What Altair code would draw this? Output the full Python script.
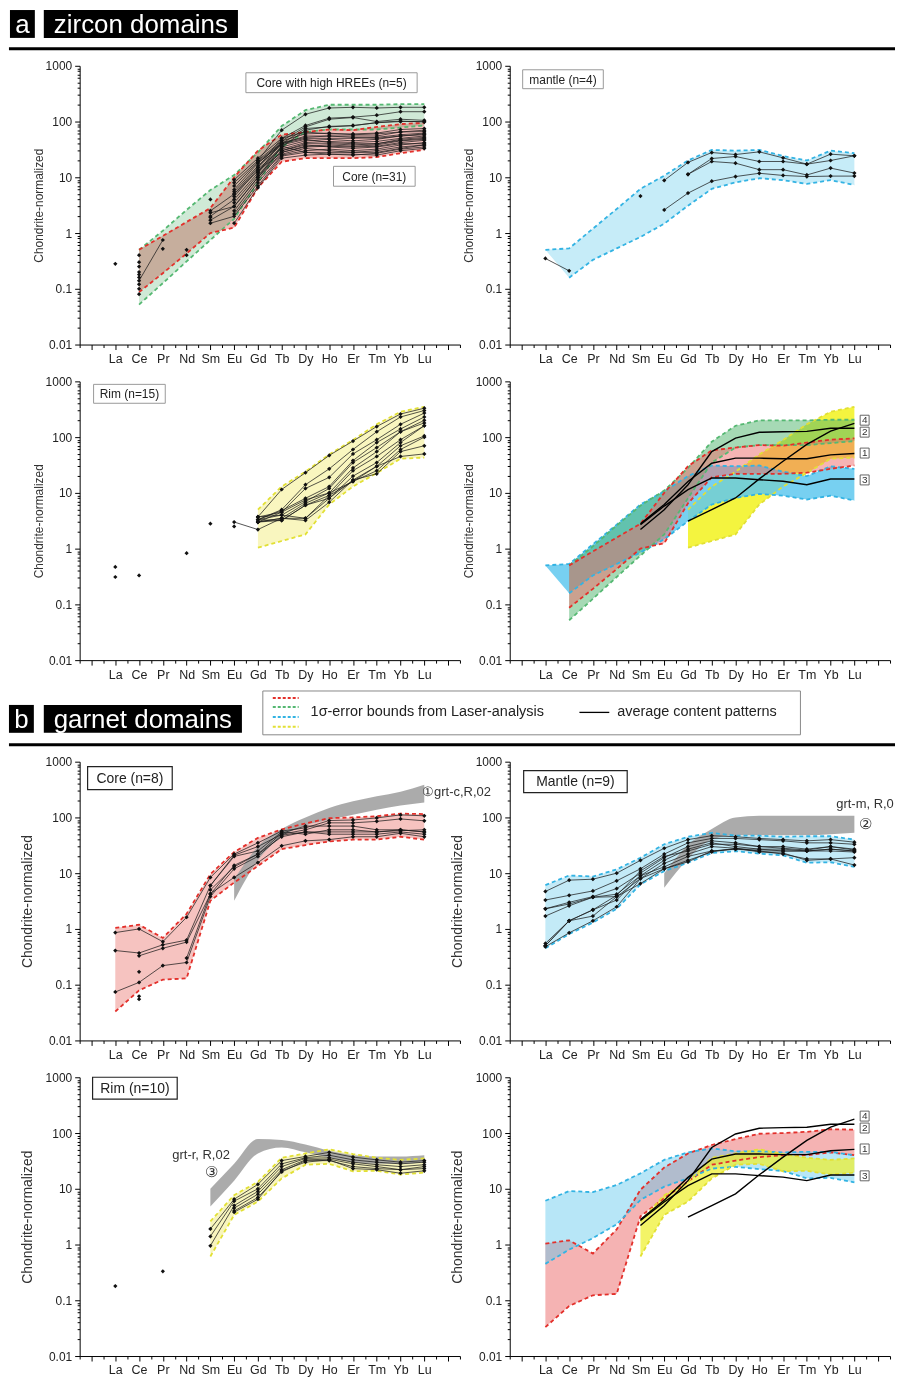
import altair as alt
import pandas as pd

N = None
ELEMENTS = ["La", "Ce", "Pr", "Nd", "Sm", "Eu", "Gd", "Tb", "Dy", "Ho", "Er", "Tm", "Yb", "Lu"]

# ---------------- zircon: 1-sigma bounds ----------------
ZC_UP = [N, 0.5, 0.89, 1.58, 2.8, 10, 30, 58, 65, 72, 70, 80, 90, 95]          # core (red)
ZC_LO = [N, 0.087, 0.19, 0.43, 1.0, 1.25, 6.5, 19, 22, 22, 22, 23, 27, 31]
ZH_UP = [N, 0.5, 1.1, 2.6, 5.9, 11, 28, 83, 160, 200, 200, 200, 205, 205]       # core high HREE (green)
ZH_LO = [N, 0.052, 0.126, 0.31, 0.75, 1.8, 8, 35, 65, 72, 72, 72, 78, 85]
ZM_UP = [0.5, 0.53, 1.2, 2.7, 6.2, 10.7, 20, 31, 30, 31, 24, 20, 30, 27]         # mantle (blue)
ZM_LO = [N, 0.158, 0.33, 0.53, 0.85, 1.47, 3.1, 6.2, 8.1, 9.6, 8.9, 7.6, 8.9, 7.3]
ZM_LO_FILL = [0.5, 0.158, 0.33, 0.53, 0.85, 1.47, 3.1, 6.2, 8.1, 9.6, 8.9, 7.6, 8.9, 7.3]
ZR_UP = [N, N, N, N, N, N, 5.0, 13, 24, 49, 89, 170, 285, 350]                  # rim (yellow)
ZR_LO = [N, N, N, N, N, N, 1.04, 1.37, 1.8, 6.2, 13, 22.7, 41, 43]

# ---------------- zircon: analyses ----------------
ZC_S = [
    [N, N, N, N, 2.5, 5.0, 15, 40, 55, 55, 55, 55, 65, 70],
    [N, N, N, N, 2.0, 4.0, 12, 35, 45, 48, 45, 48, 55, 60],
    [N, N, N, N, 1.7, 3.0, 10, 30, 40, 40, 38, 40, 48, 52],
    [N, N, N, N, N, 2.5, 9, 28, 35, 36, 35, 36, 42, 46],
    [N, N, N, N, N, 2.2, 8, 25, 30, 32, 30, 32, 38, 42],
    [N, N, N, N, N, 1.5, 6.5, 22, 25, 26, 25, 27, 32, 35],
    [N, N, N, N, N, 8.0, 20, 45, 60, 62, 58, 60, 65, 66],
    [N, N, N, N, N, 6.0, 18, 40, 50, 50, 50, 52, 58, 62],
    [N, N, N, N, 1.5, 2.0, 7, 24, 28, 28, 28, 28, 33, 38],
    [N, N, N, N, N, 4.5, 14, 32, 42, 44, 42, 44, 50, 55],
    [N, N, N, N, N, 3.5, 11, 30, 38, 35, 33, 35, 40, 40],
    [N, N, N, N, N, 9.0, 22, 50, 65, 60, 60, 62, 72, 75],
    [N, N, N, N, N, 5.5, 16, 38, 48, 42, 40, 40, 46, 50],
    [N, N, N, N, 2.3, 3.0, 10, 26, 33, 30, 28, 30, 35, 38],
    [N, N, N, N, N, N, 13, 36, 28, 26, 26, 25, 30, 33],
    [N, N, N, N, N, 7.0, 19, 42, 52, 55, 52, 50, 55, 58],
    [N, N, N, N, N, 5.0, 13, 28, 36, 38, 36, 38, 45, 48],
    [N, 0.14, 0.75, N, N, N, N, N, N, N, N, N, N, N],
]
ZC_PTS_EL = ["La", "Ce", "Ce", "Ce", "Ce", "Ce", "Ce", "Ce", "Ce", "Ce", "Pr", "Nd", "Nd", "Sm", "Sm"]
ZC_PTS_V = [0.28, 0.08, 0.1, 0.12, 0.16, 0.18, 0.2, 0.25, 0.3, 0.4, 0.52, 0.5, 0.4, 4.0, 1.9]
ZH_S = [
    [N, N, N, N, N, N, 20, 70, 135, 175, 180, 175, 180, 180],
    [N, N, N, N, N, N, 15, 50, 85, 115, 120, 130, 150, 150],
    [N, N, N, N, N, N, 12, 45, 80, 110, 118, 100, 110, 105],
    [N, N, N, N, N, N, 18, 40, 75, 80, 85, 95, 100, 100],
    [N, N, N, N, N, N, 10, 35, 70, 82, 84, 96, 102, 98],
]
ZM_S = [
    [0.35, 0.21, N, N, N, N, N, N, N, N, N, N, N, N],
    [N, N, N, N, N, 8.8, 18.5, 27.8, 25.6, 28.6, 22.3, 17.2, 26, 24.3],
    [N, N, N, N, N, N, 11.3, 21.7, 23.6, 19.2, 19.2, 17.2, 20, 24.3],
    [N, N, N, N, N, N, 11.3, 19.2, 17.9, 13.7, 13.7, 11, 14.6, 11.9],
    [N, N, N, N, N, 2.6, 5.2, 8.5, 10.3, 11.8, 10.8, 10.3, 10.5, 10.5],
]
ZM_PTS_EL = ["Sm"]
ZM_PTS_V = [4.6]
ZR_S = [
    [N, N, N, N, N, N, 3.7, 11.5, 23, 47, 85, 155, 260, 330],
    [N, N, N, N, N, N, 3.3, 5.0, 14, 27, 60, 125, 230, 300],
    [N, N, N, N, N, N, 3.0, 4.5, 12, 19, 50, 90, 170, 270],
    [N, N, N, N, N, N, 3.3, 4.8, 8, 13, 38, 80, 140, 230],
    [N, N, N, N, N, N, 3.7, 4.0, 7, 12, 35, 65, 125, 200],
    [N, N, N, N, N, 3.0, 2.2, 3.5, 6.5, 10, 28, 55, 125, 180],
    [N, N, N, N, N, N, 3.0, 3.2, 6, 9, 25, 45, 90, 160],
    [N, N, N, N, N, N, 3.3, 4.0, 3.5, 8, 20, 35, 80, 160],
    [N, N, N, N, N, N, 3.0, 3.5, 3.2, 6.8, 17, 30, 70, 105],
    [N, N, N, N, N, N, 3.7, 4.5, 7.5, 10, 16, 25, 60, 100],
    [N, N, N, N, N, N, 3.3, 3.2, 6, 8, 17, 22, 55, 70],
    [N, N, N, N, N, N, 3.0, 3.5, 3.5, 9, 16, 30, 45, 50],
]
ZR_PTS_EL = ["La", "La", "Ce", "Nd", "Sm", "Eu"]
ZR_PTS_V = [0.47, 0.31, 0.33, 0.83, 2.8, 2.5]

# ---------------- average content patterns (1-4) ----------------
AVG = [
    [N, N, N, N, 2.8, 6.2, 16, 34, 42, 42, 41, 41, 48, 51],
    [N, N, N, N, 2.2, 5.0, 14, 55, 96, 122, 125, 127, 144, 144],
    [N, N, N, N, 2.7, 5.8, 11.4, 18.5, 18.5, 17.2, 16.2, 14, 17.7, 17.7],
    [N, N, N, N, N, N, 3.1, 5.0, 8.1, 17.8, 37, 74, 128, 177],
]

# ---------------- garnet: 1-sigma bounds ----------------
GC_UP = [1.04, 1.19, 0.69, 1.87, 9.6, 24, 43, 61, 78, 97, 100, 105, 117, 115]
GC_LO = [0.033, 0.079, 0.123, 0.13, 3.2, 6.8, 13.5, 27, 32, 37, 40, 40, 45, 40]
GM_UP = [6.1, 9.1, 8.7, 11.7, 18.9, 33, 45, 53, 47, 47, 45, 46, 46, 40]
GM_LO = [0.45, 0.81, 1.3, 2.3, 6.3, 10.9, 15.4, 23, 24.8, 22.5, 20.8, 15.4, 15.7, 13]
GR_UP = [N, N, N, N, 2.6, 7.7, 13.3, 36, 43, 51, 42, 36, 33, 35]
GR_LO = [N, N, N, N, 0.61, 3.4, 5.9, 15.3, 27, 28, 20.6, 21, 18, 19.5]
# literature garnet fields (grey)
G1_UP = [N, N, N, N, N, 7.8, 30, 62, 100, 148, 195, 240, 290, 385]
G1_LO = [N, N, N, N, N, 3.2, 17, 45, 72, 91, 112, 138, 163, 186]
G2_UP = [N, N, N, N, N, 10, 32, 62, 100, 107, 107, 107, 107, 107]
G2_LO = [N, N, N, N, N, 5.5, 18, 40, 48, 48, 48, 48, 50, 53]
G3_UP = [N, N, N, N, 10, 28, 78, 75, 62, 48, 40, 38, 38, 40]
G3_LO = [N, N, N, N, 4.8, 14, 43, 55, 45, 36, 30, 28, 28, 30]

# ---------------- garnet: analyses ----------------
GC_S = [
    [0.86, 1.0, 0.59, 1.62, 8.4, 22, 35, 57, 65, 88, 90, 98, 111, 107],
    [0.41, 0.37, 0.52, 0.63, 6.0, 21, 30, 50, 60, 80, 80, 85, 94, 87],
    [N, 0.33, 0.45, 0.58, 4.2, 13.8, 22, 45, 55, 55, 55, 55, 60, 55],
    [0.074, 0.11, 0.22, 0.25, 3.8, 12, 20, 48, 55, 50, 50, 50, 55, 50],
    [N, N, N, 0.3, 4.3, 8.4, 15.5, 31, 38, 40, 45, 45, 52, 45],
    [N, N, N, N, 5.0, 13, 22, 52, 70, 70, 70, 60, 60, 55],
    [N, N, N, N, 6.0, 20, 25, 55, 50, 60, 60, 55, 58, 60],
]
GC_PTS_EL = ["Ce", "Ce", "Ce"]
GC_PTS_V = [0.17, 0.062, 0.055]
GM_S = [
    [4.7, 7.5, 7.8, 10, 17, 28, 40, 47, 45, 42, 40, 38, 40, 36],
    [3.3, 4.0, 4.8, 7.3, 12, 22, 35, 42, 42, 40, 38, 35, 35, 33],
    [2.3, 3.0, 3.8, 5.3, 10, 19, 30, 38, 35, 30, 30, 27, 30, 27],
    [2.3, 2.8, 3.7, 4.2, 9, 17, 27, 35, 30, 27, 27, 25, 27, 25],
    [1.7, 2.6, 3.7, 3.8, 8, 15, 22, 30, 28, 25, 25, 25, 25, 24],
    [0.55, 1.4, 2.2, 3.3, 9, 13, 20, 25, 27, 25, 22, 18, 18, 19],
    [0.5, 1.4, 1.7, 3.8, 6.5, 12, 17, 24, 28, 24, 23, 17, 18, 14],
    [0.48, 0.85, 1.4, 2.5, 8, 12, 16, 25, 27, 27, 25, 25, 27, 25],
    [0.5, 1.4, 2.2, 4.0, 11, 20, 25, 33, 33, 30, 28, 26, 30, 26],
]
GR_S = [
    [N, N, N, N, 1.9, 6.5, 12, 32, 38, 45, 37, 33, 30, 32],
    [N, N, N, N, 1.4, 6.0, 10, 28, 36, 40, 33, 30, 28, 30],
    [N, N, N, N, 0.95, 5.0, 9, 25, 35, 36, 30, 27, 25, 27],
    [N, N, N, N, N, 4.5, 8, 22, 33, 34, 28, 25, 22, 25],
    [N, N, N, N, N, 4.0, 7, 20, 32, 32, 25, 23, 22, 23],
    [N, N, N, N, N, 3.8, 6.5, 21, 30, 33, 23, 22, 19, 21],
]
GR_PTS_EL = ["La", "Pr"]
GR_PTS_V = [0.18, 0.33]

# ======================================================================
FONT = "Liberation Sans"
W, H = 382, 280
RED, GREEN, BLUE, YELLOW = "#e3302b", "#55b872", "#33b3e3", "#e2e035"

XS = alt.Scale(domain=[-0.5, 15.5], nice=False, zero=False)
YS = alt.Scale(type="log", domain=[0.01, 1000], nice=False)
XV = [i * 0.5 for i in range(-1, 32)]
YV = sorted(set([round(k * 10 ** d, 6) for d in range(-2, 3) for k in range(1, 10)] + [1000]))
names = "[" + ",".join("'%s'" % e for e in ELEMENTS) + "]"
XINT = "floor(datum.value) == datum.value"
DEC = "indexof([0.01,0.1,1,10,100,1000], datum.value) >= 0"

XAX = alt.Axis(values=XV, grid=False, title=None,
               labelExpr="(datum.value >= 1 && datum.value <= 14 && %s) ? %s[datum.value - 1] : ''" % (XINT, names),
               tickSize={"condition": {"test": XINT, "value": 5}, "value": 3},
               labelFont=FONT, labelFontSize=12.5, labelColor="#222", labelPadding=3,
               labelOverlap=False, labelFlush=False, domainColor="#000", tickColor="#000")


def yaxis(tx, ts):
    return alt.Axis(values=YV, grid=False, title="Chondrite-normalized",
                    labelExpr="%s ? format(datum.value, '~g') : ''" % DEC,
                    tickSize={"condition": {"test": DEC, "value": 5}, "value": 2.5},
                    labelFont=FONT, labelFontSize=12, labelColor="#222", labelPadding=3,
                    labelOverlap=False, domainColor="#000", tickColor="#000",
                    titleX=tx, titleY=H / 2, titleAngle=270, titleAlign="center", titleBaseline="middle",
                    titleFont=FONT, titleFontSize=ts, titleFontWeight="normal", titleColor="#333")


YA = yaxis(-41, 12)
YB = yaxis(-52, 14)


def xe():
    return alt.X("x:Q", scale=XS, axis=XAX)


def ye(field, yax):
    return alt.Y("%s:Q" % field, scale=YS, axis=yax)


def band_df(up, lo):
    return pd.DataFrame([dict(x=j + 1, up=u, lo=l) for j, (u, l) in enumerate(zip(up, lo))
                         if u is not None and l is not None])


def line_df(series):
    return pd.DataFrame([dict(x=j + 1, v=v, s=i) for i, ser in enumerate(series)
                         for j, v in enumerate(ser) if v is not None])


def pts_df(series, els, vals):
    rows = [dict(x=j + 1, v=v) for ser in series for j, v in enumerate(ser) if v is not None]
    rows += [dict(x=ELEMENTS.index(e) + 1, v=v) for e, v in zip(els, vals)]
    return pd.DataFrame(rows)


ONE = pd.DataFrame([{"k": 0}])


def box(x1, x2, y1, y2, stroke="#999", sw=1.0, fill="white", **kw):
    return alt.Chart(ONE).mark_rect(fill=fill, stroke=stroke, strokeWidth=sw, **kw).encode(
        x=alt.value(x1), x2=alt.value(x2), y=alt.value(y1), y2=alt.value(y2))


def label(x, y, text, size, align="center", color="#222", **kw):
    return alt.Chart(ONE).mark_text(align=align, baseline="middle", fontSize=size, font=FONT,
                                    color=color, **kw).encode(
        x=alt.value(x), y=alt.value(y), text=alt.value(text))


def hrule(x1, x2, y, color="black", sw=1.0, dash=None):
    kw = dict(color=color, strokeWidth=sw)
    if dash:
        kw["strokeDash"] = dash
    return alt.Chart(ONE).mark_rule(**kw).encode(x=alt.value(x1), x2=alt.value(x2), y=alt.value(y))


def panel(yax, bands, greys=(), samples=(), pts=None, avg=False, notes=()):
    L = []
    for b in bands:
        mk = dict(color=b["fill"], opacity=b.get("opacity", 1.0), strokeWidth=0)
        if "blend" in b:
            mk["blend"] = b["blend"]
        L.append(alt.Chart(band_df(b["up"], b.get("fill_lo", b["lo"]))).mark_area(**mk).encode(
            x=xe(), y=ye("up", yax), y2=alt.Y2("lo:Q")))
    for g in greys:
        L.append(alt.Chart(band_df(g[0], g[1])).mark_area(color="#a4a4a4", opacity=0.92,
                                                          interpolate="monotone").encode(
            x=xe(), y=ye("up", yax), y2=alt.Y2("lo:Q")))
    for b in bands:
        L.append(alt.Chart(line_df([b["up"], b["lo"]])).mark_line(
            color=b["line"], strokeDash=[4, 3], strokeWidth=1.8).encode(
            x=xe(), y=ye("v", yax), detail="s:N"))
    for smp in samples:
        L.append(alt.Chart(line_df(smp)).mark_line(color="#1c1c1c", strokeWidth=0.75).encode(
            x=xe(), y=ye("v", yax), detail="s:N"))
    if pts is not None:
        L.append(alt.Chart(pts).mark_point(shape="diamond", filled=True, size=18, color="#111",
                                           opacity=1).encode(x=xe(), y=ye("v", yax)))
    if avg:
        L.append(alt.Chart(line_df(AVG)).mark_line(color="black", strokeWidth=1.4).encode(
            x=xe(), y=ye("v", yax), detail="s:N"))
        for num, yy in (("4", 39), ("2", 51), ("1", 72), ("3", 99)):
            L.append(box(352, 361, yy - 5, yy + 5, stroke="#555", sw=0.9))
            L.append(label(356.5, yy, num, 10, color="#333"))
    L.extend(notes)
    return alt.layer(*L).properties(width=W, height=H)


# ---------------- zircon panels ----------------
a1 = panel(YA,
           [dict(up=ZH_UP, lo=ZH_LO, fill="#cfe9d6", blend="multiply", line=GREEN),
            dict(up=ZC_UP, lo=ZC_LO, fill="#f4bfbb", blend="multiply", line=RED)],
           samples=[ZH_S, ZC_S], pts=pts_df(ZH_S + ZC_S, ZC_PTS_EL, ZC_PTS_V),
           notes=[box(167, 339, 7, 27), label(253, 17.5, "Core with high HREEs (n=5)", 12),
                  box(255, 337, 101, 121), label(296, 111.5, "Core (n=31)", 12)])
a2 = panel(YA, [dict(up=ZM_UP, lo=ZM_LO, fill_lo=ZM_LO_FILL, fill="#c6ecf8", line=BLUE)],
           samples=[ZM_S], pts=pts_df(ZM_S, ZM_PTS_EL, ZM_PTS_V),
           notes=[box(13, 94, 4, 23), label(53.5, 14, "mantle (n=4)", 12)])
a3 = panel(YA, [dict(up=ZR_UP, lo=ZR_LO, fill="#f9f6bf", line=YELLOW)],
           samples=[ZR_S], pts=pts_df(ZR_S, ZR_PTS_EL, ZR_PTS_V),
           notes=[box(14, 86, 3, 22), label(50, 13, "Rim (n=15)", 12)])
a4 = panel(YA,
           [dict(up=ZR_UP, lo=ZR_LO, fill="#f3f335", opacity=0.95, line=YELLOW),
            dict(up=ZM_UP, lo=ZM_LO, fill_lo=ZM_LO_FILL, fill="#5fc8ee", opacity=0.85, line=BLUE),
            dict(up=ZH_UP, lo=ZH_LO, fill="#4db36b", opacity=0.5, line=GREEN),
            dict(up=ZC_UP, lo=ZC_LO, fill="#ee6a6a", opacity=0.5, line=RED)],
           avg=True)

# ---------------- garnet panels ----------------
b1 = panel(YB, [dict(up=GC_UP, lo=GC_LO, fill="#f6c3c0", line=RED)], greys=[(G1_UP, G1_LO)],
           samples=[GC_S], pts=pts_df(GC_S, GC_PTS_EL, GC_PTS_V),
           notes=[box(8, 93, 5, 28, stroke="#222", sw=1.2), label(50.5, 17, "Core (n=8)", 14),
                  label(344, 30, "\u2460grt-c,R,02", 13, align="left", color="#333")])
b2 = panel(YB, [dict(up=GM_UP, lo=GM_LO, fill="#c3eaf7", line=BLUE)], greys=[(G2_UP, G2_LO)],
           samples=[GM_S], pts=pts_df(GM_S, [], []),
           notes=[box(14, 118, 9, 31, stroke="#222", sw=1.2), label(66, 20.5, "Mantle (n=9)", 14),
                  label(328, 43, "grt-m, R,02", 13, align="left", color="#333", limit=59,
                        ellipsis="\u200b"),
                  label(357, 63, "\u2461", 15, color="#333")])
b3 = panel(YB, [dict(up=GR_UP, lo=GR_LO, fill="#f8f5bd", line=YELLOW)], greys=[(G3_UP, G3_LO)],
           samples=[GR_S], pts=pts_df(GR_S, GR_PTS_EL, GR_PTS_V),
           notes=[box(13, 98, 0, 22, stroke="#222", sw=1.2), label(55.5, 11.5, "Rim (n=10)", 14),
                  label(122, 78, "grt-r, R,02", 13, color="#333"),
                  label(132, 95, "\u2462", 15, color="#333")])
b4 = panel(YB,
           [dict(up=GC_UP, lo=GC_LO, fill="#f5b3b3", line=RED),
            dict(up=GM_UP, lo=GM_LO, fill="#5fc8ee", opacity=0.45, line=BLUE),
            dict(up=GR_UP, lo=GR_LO, fill="#eef02c", opacity=0.72, line=YELLOW)],
           avg=True)

# ---------------- headers (column 0) and empty partner cells (column 1) ----------------
headA = alt.layer(
    box(-70, -45, 0, 28, stroke="black", sw=0, fill="black"),
    box(-36, 159, 0, 28, stroke="black", sw=0, fill="black"),
    label(-57.5, 15, "a", 26, color="white"),
    label(61.5, 15, "zircon domains", 26, color="white"),
    hrule(-71, 819, 39, sw=3),
).properties(width=W, height=19)

headB = alt.layer(
    box(184, 724, -6, 38, stroke="#888", sw=1),
    hrule(194, 220, 1, color=RED, sw=2, dash=[3, 2]),
    hrule(194, 220, 10, color=GREEN, sw=2, dash=[3, 2]),
    hrule(194, 220, 20, color=BLUE, sw=2, dash=[3, 2]),
    hrule(194, 220, 30, color=YELLOW, sw=2, dash=[3, 2]),
    label(232, 15.5, "1\u03c3-error bounds from Laser-analysis", 14.5, align="left", color="#222"),
    hrule(502, 532, 15.5, sw=1.3),
    label(540, 15.5, "average content patterns", 14.5, align="left", color="#222"),
    box(-71, -46, 8, 36, stroke="black", sw=0, fill="black"),
    box(-36, 163, 8, 36, stroke="black", sw=0, fill="black"),
    label(-58.5, 23, "b", 26, color="white"),
    label(63.5, 23, "garnet domains", 26, color="white"),
    hrule(-71, 819, 48, sw=3),
).properties(width=W, height=28)


def blank(h):
    return box(0, 1, 0, 1, stroke="white", sw=0, opacity=0).properties(width=W, height=h)


chart = alt.concat(
    headA, blank(19),
    a1, a2,
    a3, a4,
    headB, blank(28),
    b1, b2,
    b3, b4,
    columns=2, spacing={"row": 37, "column": 50}, bounds="flush",
).properties(
    padding={"left": 7, "top": 7, "right": 0, "bottom": 0}
).configure(font=FONT).configure_view(stroke=None)

chart.save("out.html", embed_options={"renderer": "svg", "actions": False})
